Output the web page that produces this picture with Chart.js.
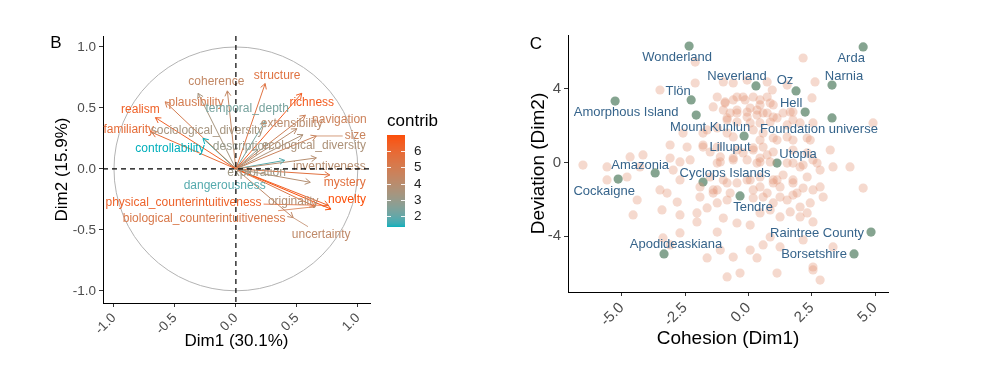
<!DOCTYPE html>
<html>
<head>
<meta charset="utf-8">
<script src="https://cdn.jsdelivr.net/npm/chart.js@4.4.1/dist/chart.umd.min.js"></script>
<style>
  html, body { margin: 0; padding: 0; background: #fff; }
  #wrap { position: relative; width: 1000px; height: 369px; overflow: hidden; }
  canvas { position: absolute; top: 0; }
  #pca { left: 0; }
  #worlds { left: 500px; }
</style>
</head>
<body>
<div id="wrap">
  <canvas id="pca" width="500" height="369"></canvas>
  <canvas id="worlds" width="500" height="369"></canvas>
</div>
<script>
// ---------- Panel B: PCA variables ----------
const varNames = ["realism", "familiarity", "plausibility", "coherence", "sociological_diversity",
  "structure", "richness", "temporal_depth", "extensibility", "navigation", "size", "description",
  "ecological_diversity", "controllability", "inventiveness", "exploration", "dangerousness",
  "mystery", "novelty", "physical_counterintuitiveness", "biological_counterintuitiveness",
  "originality", "uncertainty"];
const varDim1 = [-0.66, -0.69, -0.58, -0.07, -0.31, 0.24, 0.54, 0.24, 0.50, 0.57, 0.66, 0.18,
  0.55, -0.27, 0.66, 0.12, 0.40, 0.77, 0.78, 0.76, 0.65, 0.61, 0.47];
const varDim2 = [0.42, 0.30, 0.55, 0.64, 0.62, 0.70, 0.62, 0.39, 0.33, 0.44, 0.27, 0.16,
  0.28, 0.25, 0.09, -0.03, 0.07, -0.05, -0.33, -0.30, -0.31, -0.11, -0.40];
const varContrib = [6.3, 5.8, 5.0, 4.3, 3.4, 5.5, 6.5, 2.3, 4.0, 4.7, 4.6, 3.0,
  3.6, 1.33, 3.9, 3.2, 1.8, 5.6, 6.98, 6.2, 5.2, 3.8, 4.2];
const contribTicks = [2, 3, 4, 5, 6];
const pcaTicks = [-1, -0.5, 0, 0.5, 1];

// label placement (pixels from the arrow tip), like ggrepel left them
const varLabelDx = [-15, -23, 31, -11, 9, 12, 10, -18, -5, 34, 39, -16, 11, -33, 13, 6, -60, 15, 16, -145, -111, -17, 28];
const varLabelDy = [-8, -3, 1, -9, 37, -8, 9, -13, -5, 4, 0, -3, 11, 10, 9, 0, 25, 8, -9, -3, 12, 19, 17];
const varSegment = ["size", "physical_counterintuitiveness", "biological_counterintuitiveness", "uncertainty"];

// ---------- Panel C: worlds ----------
const bgDim1 = [2.16,-2.10,-3.49,-2.10,-0.99,-0.60,-0.05,0.74,0.94,1.53,
  2.63,2.51,-1.23,-0.92,-0.45,-0.13,0.19,0.46,0.74,0.98,
  -1.39,-0.99,-0.72,-0.45,-0.05,0.34,0.58,0.98,1.37,1.76,
  -0.84,-0.45,0.07,0.46,0.86,1.53,1.76,2.55,4.92,-2.58,
  -1.79,-0.60,0.46,1.13,1.76,2.32,-3.09,-2.42,-1.79,-1.23,
  -0.45,0.19,0.58,0.98,1.76,2.32,3.23,-4.67,-4.16,-3.09,
  -2.30,-1.11,-0.60,-0.05,0.46,0.86,1.76,2.16,2.71,-6.53,
  -5.58,-4.79,-2.97,4.01,-4.28,-2.70,-1.23,0.34,2.83,3.34,
  -5.58,-3.49,-3.21,-2.70,-1.91,-1.39,-0.84,-0.05,0.46,0.98,
  1.13,1.76,2.16,2.83,2.95,4.53,-4.39,-2.81,-1.91,-1.39,
  -1.23,-0.84,0.19,0.58,1.25,1.76,2.44,-4.55,-3.41,-2.70,
  -2.03,-1.63,-0.99,-0.45,0.07,0.46,0.86,1.25,1.65,2.04,
  2.32,2.55,-2.03,-2.70,-1.23,-3.37,-3.09,-1.11,-1.63,-0.60,
  0.07,0.34,0.58,0.86,1.25,2.16,2.55,3.34,-0.84,-0.33,
  1.13,2.83,2.55,
  -0.92,-0.60,-0.21,0.07,0.46,0.86,-0.84,-0.45,-0.05,0.34,
  0.74,1.13,1.65,2.04,-1.63,-1.23,-0.84,0.19,0.58,0.98,
  1.53,2.44,-1.79,-1.51,-1.11,-0.60,-0.21,0.19,0.74,0.46,
  1.53,2.04,2.55,-1.51,-0.99,-0.45,0.07,0.46,0.98,1.37,
  1.76,2.32,-1.23,-0.72,0.19,0.74,1.25,1.92,2.55,0.98,
  1.53,2.04];
const bgDim2 = [5.68,5.46,3.94,4.32,4.38,4.32,4.48,4.38,3.94,4.21,
  4.38,3.51,3.56,3.29,3.56,3.40,3.56,3.40,3.56,3.13,
  3.02,2.85,2.69,2.85,2.74,2.85,2.69,2.47,2.69,2.74,
  2.31,2.20,2.15,2.15,2.20,2.04,2.31,2.15,2.15,1.60,
  1.60,1.39,1.22,1.22,1.22,1.33,0.95,0.84,0.95,0.84,
  0.68,0.79,0.84,0.57,0.68,0.52,0.68,0.30,0.41,0.24,
  0.14,0.03,0.24,0.14,0.24,0.03,-0.03,-0.14,-0.03,-0.14,
  -0.24,-0.79,-0.41,-0.24,-0.24,0.03,-0.03,-0.03,-0.41,-0.24,
  -0.95,-1.49,-1.66,-0.95,-1.33,-1.49,-1.11,-0.95,-1.33,-1.11,
  -0.95,-1.11,-1.39,-1.33,-1.88,-1.39,-2.04,-2.15,-1.88,-1.66,
  -2.20,-2.04,-1.93,-1.88,-1.88,-1.77,-2.20,-2.85,-2.58,-2.85,
  -2.74,-2.47,-3.02,-3.29,-3.40,-2.74,-2.58,-2.96,-2.69,-2.96,
  -2.74,-3.23,-3.23,-3.83,-3.78,-4.10,-4.48,-4.76,-5.19,-5.14,
  -4.76,-5.19,-4.48,-4.05,-4.59,-4.21,-5.68,-4.59,-6.22,-6.01,
  -6.01,-6.39,-5.84,
  3.23,3.40,3.56,2.96,3.13,3.23,2.42,2.69,2.47,2.58,
  2.69,2.42,2.74,2.15,1.77,1.88,1.60,1.77,1.60,1.33,
  1.39,1.22,0.84,0.57,0.30,0.14,0.52,0.68,0.41,0.03,
  -0.03,-0.24,0.14,-0.79,-0.95,-1.11,-0.95,-0.79,-0.95,-0.68,
  -0.95,-0.79,-1.49,-1.66,-1.49,-1.66,-1.33,-1.66,-1.49,-2.20,
  -2.04,-2.42];

const worldNames = ["Wonderland", "Arda", "Neverland", "Oz", "Narnia", "Tlön", "Amorphous Island",
  "Mount Kunlun", "Hell", "Foundation universe", "Lilluput", "Utopia", "Amazonia", "Cockaigne",
  "Cyclops Islands", "Tendre", "Raintree County", "Borsetshire", "Apodideaskiana"];
const worldDim1 = [-2.34, 4.53, 0.30, 1.88, 3.30, -2.26, -5.26, -2.06, 2.24, 3.30, -0.17, 1.13,
  -3.68, -5.14, -1.79, -0.33, 4.84, 4.17, -3.33];
const worldDim2 = [6.33, 6.28, 4.16, 3.89, 4.21, 3.40, 3.34, 2.58, 2.74, 2.42, 1.44, -0.03,
  -0.57, -0.90, -1.06, -1.82, -3.78, -4.97, -4.97];
const worldLabelDx = [-12, -12, -19, -11, 12, -13, 11, 14, -14, -13, -14, 21, -15, -14, 22, 13, -54, -40, 12];
const worldLabelDy = [11, 11, -10, -11, -9, -9, 11, 12, -9, 11, 11, -9, -8, 12, -9, 11, 1, 1, -9];
const cohesionTicks = [-5, -2.5, 0, 2.5, 5];
const deviationTicks = [-4, 0, 4];

const FONT = "'Liberation Sans', Arial, sans-serif";
Chart.defaults.font.family = FONT;

// ggplot-style gradient: interpolate low/high in Lab space
const LOW = "#00AFBB", HIGH = "#FC4E07";
function toLab(hex) {
  const lin = c => { c /= 255; return c <= 0.04045 ? c / 12.92 : Math.pow((c + 0.055) / 1.055, 2.4); };
  const R = lin(parseInt(hex.slice(1, 3), 16)), G = lin(parseInt(hex.slice(3, 5), 16)), B = lin(parseInt(hex.slice(5, 7), 16));
  const X = (0.4124 * R + 0.3576 * G + 0.1805 * B) / 0.95047;
  const Y = 0.2126 * R + 0.7152 * G + 0.0722 * B;
  const Z = (0.0193 * R + 0.1192 * G + 0.9505 * B) / 1.08883;
  const f = t => t > 0.008856 ? Math.cbrt(t) : 7.787 * t + 16 / 116;
  return [116 * f(Y) - 16, 500 * (f(X) - f(Y)), 200 * (f(Y) - f(Z))];
}
function fromLab(L, a, b) {
  const fy = (L + 16) / 116, fx = fy + a / 500, fz = fy - b / 200;
  const inv = t => t * t * t > 0.008856 ? t * t * t : (t - 16 / 116) / 7.787;
  const X = inv(fx) * 0.95047, Y = inv(fy), Z = inv(fz) * 1.08883;
  const R = 3.2406 * X - 1.5372 * Y - 0.4986 * Z;
  const G = -0.9689 * X + 1.8758 * Y + 0.0415 * Z;
  const B = 0.0557 * X - 0.2040 * Y + 1.0570 * Z;
  const g = c => { c = c <= 0.0031308 ? 12.92 * c : 1.055 * Math.pow(c, 1 / 2.4) - 0.055; return Math.round(Math.min(1, Math.max(0, c)) * 255); };
  return "rgb(" + g(R) + "," + g(G) + "," + g(B) + ")";
}
const labLow = toLab(LOW), labHigh = toLab(HIGH);
const cMin = Math.min(...varContrib), cMax = Math.max(...varContrib);
function contribColor(v) {
  const t = (v - cMin) / (cMax - cMin);
  return fromLab(labLow[0] + (labHigh[0] - labLow[0]) * t, labLow[1] + (labHigh[1] - labLow[1]) * t, labLow[2] + (labHigh[2] - labLow[2]) * t);
}

function axisBase(ticksList, fmt, size) {
  return {
    type: "linear",
    afterBuildTicks: s => { s.ticks = ticksList.map(v => ({ value: v })); },
    ticks: { callback: fmt, color: "#4d4d4d", font: { size: size }, padding: 3, autoSkip: false },
    grid: { drawOnChartArea: false, drawTicks: true, tickLength: 4, color: "#333" },
    border: { color: "#000", width: 1 },
  };
}

// circle, arrow heads, labels, dashed lines, colour bar
const pcaDecor = {
  id: "pcaDecor",
  beforeDatasetsDraw(chart) {
    const { ctx, scales: { x, y } } = chart;
    const cx = x.getPixelForValue(0), cy = y.getPixelForValue(0);
    ctx.save();
    ctx.strokeStyle = "#b3b3b3";
    ctx.lineWidth = 1;
    ctx.beginPath();
    ctx.ellipse(cx, cy, x.getPixelForValue(1) - cx, cy - y.getPixelForValue(1), 0, 0, Math.PI * 2);
    ctx.stroke();
    ctx.restore();
  },
  afterDatasetsDraw(chart) {
    const { ctx, chartArea, scales: { x, y } } = chart;
    ctx.save();
    chart.data.datasets.forEach((ds, i) => {
      const pts = chart.getDatasetMeta(i).data;
      const p0 = pts[0], p1 = pts[1];
      const ang = Math.atan2(p1.y - p0.y, p1.x - p0.x);
      ctx.strokeStyle = ds.borderColor;
      ctx.lineWidth = 1;
      ctx.beginPath();
      [-Math.PI / 6, Math.PI / 6].forEach(a => {
        ctx.moveTo(p1.x, p1.y);
        ctx.lineTo(p1.x - 6 * Math.cos(ang + a), p1.y - 6 * Math.sin(ang + a));
      });
      ctx.stroke();
    });
    ctx.font = "12px " + FONT;
    ctx.textAlign = "center";
    ctx.textBaseline = "middle";
    varNames.forEach((name, i) => {
      const tx = x.getPixelForValue(varDim1[i]), ty = y.getPixelForValue(varDim2[i]);
      const lx = tx + varLabelDx[i], ly = ty + varLabelDy[i];
      const col = contribColor(varContrib[i]);
      if (varSegment.includes(name)) {
        const hw = ctx.measureText(name).width / 2 + 2, hh = 8;
        const vx = tx - lx, vy = ty - ly;
        const s = Math.min(vx ? hw / Math.abs(vx) : 1e9, vy ? hh / Math.abs(vy) : 1e9);
        if (s < 1) {
          ctx.strokeStyle = col;
          ctx.lineWidth = 0.8;
          ctx.beginPath();
          ctx.moveTo(lx + vx * s, ly + vy * s);
          ctx.lineTo(tx, ty);
          ctx.stroke();
        }
      }
      ctx.fillStyle = col;
      ctx.fillText(name, lx, ly);
    });
    // dashed reference lines
    ctx.strokeStyle = "#000";
    ctx.lineWidth = 1.2;
    ctx.setLineDash([5, 4]);
    ctx.beginPath();
    const zx = x.getPixelForValue(0), zy = y.getPixelForValue(0);
    ctx.moveTo(zx, chartArea.top); ctx.lineTo(zx, chartArea.bottom);
    ctx.moveTo(chartArea.left, zy); ctx.lineTo(chartArea.right, zy);
    ctx.stroke();
    ctx.restore();
  },
  afterDraw(chart) {
    const { ctx } = chart;
    ctx.save();
    // colour bar legend
    const bx = 387, bw = 18, top = 135, bottom = 227;
    const vy = v => bottom - (v - cMin) / (cMax - cMin) * (bottom - top);
    for (let py = top; py < bottom; py++) {
      const v = cMin + (bottom - py - 0.5) / (bottom - top) * (cMax - cMin);
      ctx.fillStyle = contribColor(v);
      ctx.fillRect(bx, py, bw, 1);
    }
    ctx.strokeStyle = "rgba(255,255,255,0.9)";
    ctx.lineWidth = 1;
    ctx.font = "13.5px " + FONT;
    ctx.fillStyle = "#222";
    ctx.textAlign = "left";
    ctx.textBaseline = "middle";
    contribTicks.forEach(v => {
      const py = Math.round(vy(v)) + 0.5;
      ctx.beginPath();
      ctx.moveTo(bx, py); ctx.lineTo(bx + 4, py);
      ctx.moveTo(bx + bw - 4, py); ctx.lineTo(bx + bw, py);
      ctx.stroke();
      ctx.fillText(String(v), bx + bw + 9, py);
    });
    ctx.fillStyle = "#000";
    ctx.font = "17px " + FONT;
    ctx.fillText("contrib", bx, 121);
    ctx.font = "17px " + FONT;
    ctx.textAlign = "center";
    ctx.fillText("B", 56, 43);
    ctx.restore();
  }
};

new Chart(document.getElementById("pca"), {
  type: "scatter",
  data: {
    datasets: varNames.map((name, i) => ({
      label: name,
      data: [{ x: 0, y: 0 }, { x: varDim1[i], y: varDim2[i] }],
      showLine: true,
      borderColor: contribColor(varContrib[i]),
      borderWidth: 1,
      pointRadius: 0,
    })),
  },
  options: {
    responsive: false,
    animation: false,
    layout: { padding: { left: 0, top: 36, right: 130, bottom: 0 } },
    plugins: { legend: { display: false }, tooltip: { enabled: false } },
    scales: {
      x: Object.assign(axisBase(pcaTicks, v => v.toFixed(1), 13.5), {
        min: -1.09, max: 1.10,
        afterFit: s => { s.height = 66; },
        title: { display: true, text: "Dim1 (30.1%)", color: "#000", font: { size: 17 }, padding: { bottom: 17 } },
      }),
      y: Object.assign(axisBase(pcaTicks, v => v.toFixed(1), 13.5), {
        min: -1.10, max: 1.09,
        afterFit: s => { s.width = 103; },
        title: { display: true, text: "Dim2 (15.9%)", color: "#000", font: { size: 17 }, padding: { top: 52 } },
      }),
    },
  },
  plugins: [pcaDecor],
});
// rotate x tick labels of both panels
Chart.getChart("pca").options.scales.x.ticks.minRotation = 45;
Chart.getChart("pca").options.scales.x.ticks.maxRotation = 45;
Chart.getChart("pca").update();

// ---------- Panel C ----------
const worldLabels = {
  id: "worldLabels",
  afterDatasetsDraw(chart) {
    const { ctx, scales: { x, y } } = chart;
    ctx.save();
    ctx.font = "13px " + FONT;
    ctx.fillStyle = "#36648B";
    ctx.textAlign = "center";
    ctx.textBaseline = "middle";
    worldNames.forEach((name, i) => {
      ctx.fillText(name, x.getPixelForValue(worldDim1[i]) + worldLabelDx[i], y.getPixelForValue(worldDim2[i]) + worldLabelDy[i]);
    });
    ctx.font = "17px " + FONT;
    ctx.fillStyle = "#000";
    ctx.fillText("C", 36, 44);
    ctx.restore();
  }
};

new Chart(document.getElementById("worlds"), {
  type: "scatter",
  data: {
    datasets: [
      {
        data: bgDim1.map((v, i) => ({ x: v, y: bgDim2[i] })),
        pointRadius: 4.6,
        pointBackgroundColor: "rgba(226,146,116,0.35)",
        pointBorderWidth: 0,
      },
      {
        data: worldDim1.map((v, i) => ({ x: v, y: worldDim2[i] })),
        pointRadius: 4.6,
        pointBackgroundColor: "rgba(112,148,124,0.85)",
        pointBorderWidth: 0,
      },
    ],
  },
  options: {
    responsive: false,
    animation: false,
    layout: { padding: { left: 0, top: 35, right: 112, bottom: 0 } },
    plugins: { legend: { display: false }, tooltip: { enabled: false } },
    scales: {
      x: Object.assign(axisBase(cohesionTicks, v => v.toFixed(1), 15), {
        min: -7.12, max: 5.51,
        afterFit: s => { s.height = 77; },
        title: { display: true, text: "Cohesion (Dim1)", color: "#000", font: { size: 19 }, padding: { bottom: 19 } },
      }),
      y: Object.assign(axisBase(deviationTicks, v => String(v), 15), {
        min: -7.04, max: 6.93,
        afterFit: s => { s.width = 68; },
        title: { display: true, text: "Deviation (Dim2)", color: "#000", font: { size: 19 }, padding: { top: 27 } },
      }),
    },
  },
  plugins: [worldLabels],
});
Chart.getChart("worlds").options.scales.x.ticks.minRotation = 45;
Chart.getChart("worlds").options.scales.x.ticks.maxRotation = 45;
Chart.getChart("worlds").update();
</script>
</body>
</html>
